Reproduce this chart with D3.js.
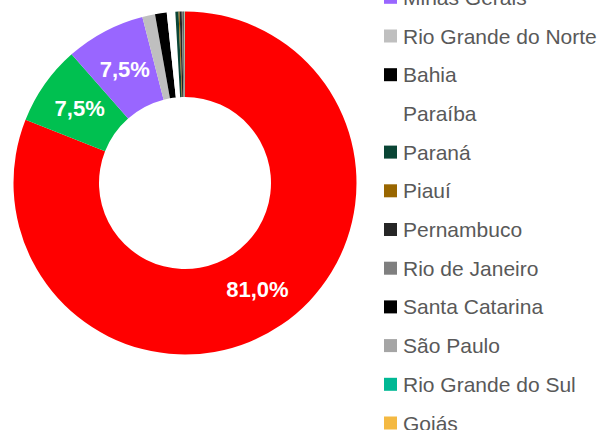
<!DOCTYPE html>
<html>
<head>
<meta charset="utf-8">
<script src="https://cdn.jsdelivr.net/npm/d3@7"></script>
<style>
  html, body { margin: 0; padding: 0; background: #ffffff; overflow: hidden; }
  svg { display: block; }
</style>
</head>
<body>
<svg id="chart" width="598" height="430"></svg>
<script>
// Categories (the first two legend entries sit above the visible area in the reference)
const categories = ["Pará", "Ceará", "Minas Gerais", "Rio Grande do Norte", "Bahia", "Paraíba",
  "Paraná", "Piauí", "Pernambuco", "Rio de Janeiro", "Santa Catarina", "São Paulo",
  "Rio Grande do Sul", "Goiás"];
// Shares (%)
const values = [81.0, 7.5, 7.5, 1.2, 1.1, 0.8, 0.3, 0.1, 0.2, 0.15, 0.05, 0.05, 0.03, 0.02];
// Slice colours
const colors = ["#FF0000", "#00C050", "#9966FF", "#BFBFBF", "#000000", "#FFFFFF",
  "#0A4535", "#996600", "#262626", "#7F7F7F", "#000000", "#A5A5A5", "#00B894", "#F4B942"];
// Which slices carry a data label
const labelled = [true, true, true, false, false, false, false, false, false, false, false, false, false, false];

const svg = d3.select("#chart");
const cx = 185, cy = 183, outerR = 171.5, innerR = 86;

const total = d3.sum(values);
const pie = d3.pie().sort(null).value(d => d.v).startAngle(0).endAngle(2 * Math.PI);
const data = categories.map((c, i) => ({ name: c, v: values[i], color: colors[i], label: labelled[i] }));
const arcs = pie(data);
const arc = d3.arc().innerRadius(innerR).outerRadius(outerR);
const labelArc = d3.arc().innerRadius((innerR + outerR) / 2).outerRadius((innerR + outerR) / 2);

const g = svg.append("g").attr("transform", `translate(${cx},${cy})`);
g.selectAll("path.slice").data(arcs).join("path")
  .attr("class", "slice")
  .attr("d", arc)
  .attr("fill", d => d.data.color);

const fmt = v => (v).toFixed(1).replace(".", ",") + "%";
g.selectAll("text.lbl").data(arcs.filter(d => d.data.label)).join("text")
  .attr("class", "lbl")
  .attr("transform", d => `translate(${labelArc.centroid(d)})`)
  .attr("text-anchor", "middle")
  .attr("dominant-baseline", "central")
  .attr("fill", "#ffffff")
  .attr("font-family", "'Liberation Sans', Arial, sans-serif")
  .attr("font-weight", "bold")
  .attr("font-size", "22px")
  .text(d => fmt(d.data.v / total * 100));

// Legend
const legendY = d3.scaleLinear().domain([0, 1]).range([-80.1, -80.1 + 38.7]);
const lg = svg.append("g");
const items = lg.selectAll("g.item").data(data).join("g")
  .attr("class", "item")
  .attr("transform", (d, i) => `translate(384,${legendY(i)})`);
items.append("rect")
  .attr("x", 0).attr("y", -6.5).attr("width", 13).attr("height", 13)
  .attr("fill", d => d.color);
items.append("text")
  .attr("x", 19).attr("y", 0)
  .attr("dominant-baseline", "central")
  .attr("fill", "#595959")
  .attr("font-family", "'Liberation Sans', Arial, sans-serif")
  .attr("font-size", "21px")
  .text(d => d.name);
</script>
</body>
</html>
